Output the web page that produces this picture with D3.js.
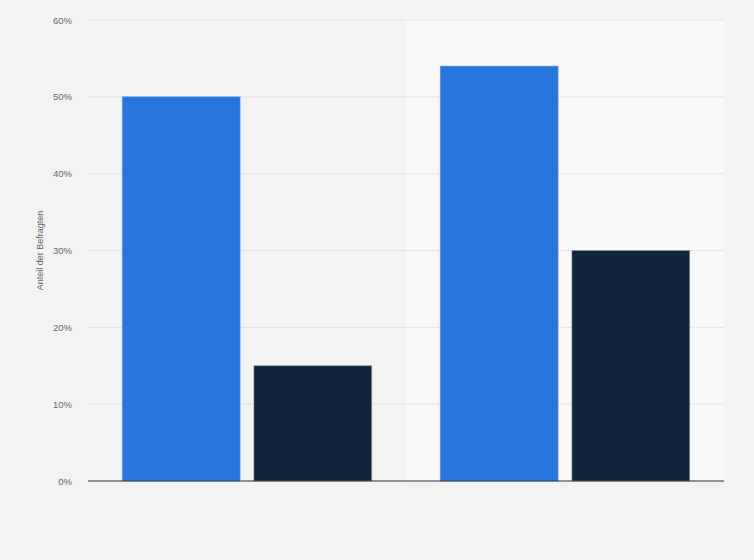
<!DOCTYPE html>
<html>
<head>
<meta charset="utf-8">
<script src="https://cdn.jsdelivr.net/npm/d3@7"></script>
<style>
  html, body { margin: 0; padding: 0; background: #f3f3f3; }
  #chart { width: 754px; height: 560px; }
</style>
</head>
<body>
<div id="chart"></div>
<script>
// data
var groups = ['Gruppe 1', 'Gruppe 2'];
var series = ['Serie A', 'Serie B'];
var valuesA = [50, 54];
var valuesB = [15, 30];
var yTicks = [0, 10, 20, 30, 40, 50, 60];
var colors = ['#2876dd', '#12263b'];

var svgWidth = 754, svgHeight = 560;
var margin = {top: 20, right: 30, bottom: 79, left: 88};
var w = svgWidth - margin.left - margin.right;
var h = svgHeight - margin.top - margin.bottom;
var font = '"Liberation Sans", Arial, sans-serif';

var svg = d3.select('#chart').append('svg')
    .attr('width', svgWidth)
    .attr('height', svgHeight)
    .style('font-family', font);

svg.append('rect')
    .attr('width', svgWidth).attr('height', svgHeight)
    .attr('fill', '#f3f3f3');

var g = svg.append('g')
    .attr('transform', 'translate(' + margin.left + ',' + margin.top + ')');

var x0 = d3.scaleBand().domain(groups).range([0, w]).padding(0);
var x1 = d3.scaleBand().domain(series).range([0, x0.bandwidth()])
    .paddingInner(0.105).paddingOuter(0.26);
var y = d3.scaleLinear().domain([0, 60]).range([h, 0]);

// alternating band backgrounds
g.selectAll('rect.band')
    .data(groups)
    .enter().append('rect')
    .attr('class', 'band')
    .attr('x', d => x0(d))
    .attr('y', 0)
    .attr('width', x0.bandwidth())
    .attr('height', h)
    .attr('fill', (d, i) => i % 2 ? '#f8f8f8' : '#f3f3f3');

// grid
g.selectAll('line.grid')
    .data(yTicks.filter(d => d > 0))
    .enter().append('line')
    .attr('class', 'grid')
    .attr('x1', 0).attr('x2', w)
    .attr('y1', d => y(d)).attr('y2', d => y(d))
    .attr('stroke', '#cfcfcf')
    .attr('stroke-width', 1)
    .attr('stroke-dasharray', '1,1');

// y axis labels
var yAxis = d3.axisLeft(y).tickValues(yTicks).tickSize(0).tickPadding(16)
    .tickFormat(d => d + '%');
var ya = g.append('g').call(yAxis);
ya.select('.domain').remove();
ya.selectAll('text')
    .style('font-size', '9.5px')
    .style('fill', '#666666')
    .style('font-family', font);

// bars
var rows = groups.map((grp, i) => ({grp: grp, vals: [valuesA[i], valuesB[i]]}));
var grpSel = g.selectAll('g.grp')
    .data(rows)
    .enter().append('g')
    .attr('class', 'grp')
    .attr('transform', d => 'translate(' + x0(d.grp) + ',0)');

grpSel.selectAll('rect.bar')
    .data(d => d.vals.map((v, j) => ({s: series[j], v: v, j: j})))
    .enter().append('rect')
    .attr('class', 'bar')
    .attr('x', d => x1(d.s))
    .attr('y', d => y(d.v))
    .attr('width', x1.bandwidth())
    .attr('height', d => h - y(d.v))
    .attr('fill', d => colors[d.j])
    .attr('stroke', d => d.j ? '#8a96a3' : '#5a9cf0')
    .attr('stroke-width', 0.6);

// baseline
g.append('line')
    .attr('x1', 0).attr('x2', w)
    .attr('y1', h).attr('y2', h)
    .attr('stroke', '#333333')
    .attr('stroke-width', 1.2);

// y title
svg.append('text')
    .attr('transform', 'translate(43,' + (margin.top + h / 2) + ') rotate(-90)')
    .style('text-anchor', 'middle')
    .style('font-size', '9px')
    .style('fill', '#666666')
    .text('Anteil der Befragten');
</script>
</body>
</html>
